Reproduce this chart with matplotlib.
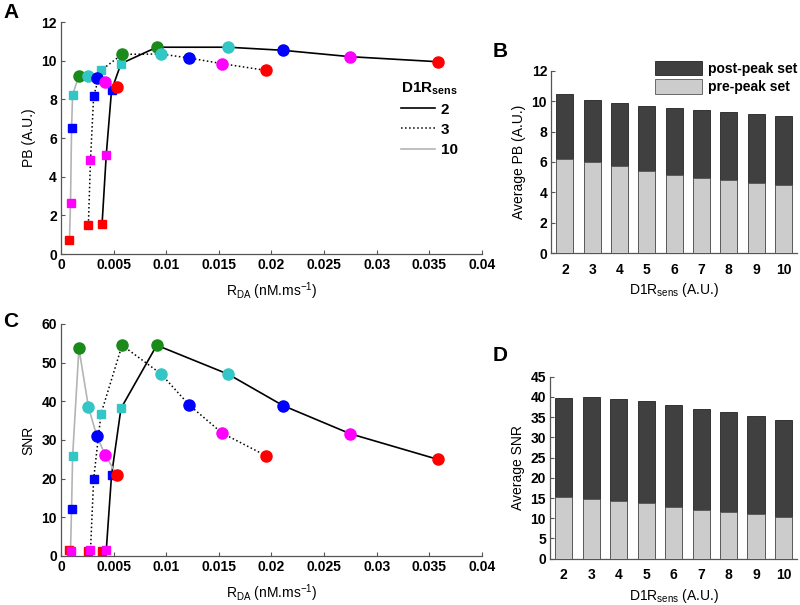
import matplotlib
matplotlib.use("Agg")
import matplotlib.pyplot as plt
from matplotlib.lines import Line2D
from matplotlib.patches import Patch

plt.rcParams['font.family'] = ['Liberation Sans', 'DejaVu Sans']

# --- data ---
# R_DA values (nM/ms) for each D1R sensitivity curve, pre-peak (squares) then peak + post-peak (circles)
rda_2 = [0.0039, 0.0043, 0.0048, 0.0057, 0.0091, 0.0159, 0.0211, 0.0275, 0.0358]
rda_3 = [0.0026, 0.0028, 0.0031, 0.0038, 0.0058, 0.0095, 0.0122, 0.0153, 0.0195]
rda_10 = [0.0008, 0.0009, 0.0010, 0.0011, 0.0017, 0.0026, 0.0034, 0.0042, 0.0053]

pb_2 = [1.55, 5.15, 8.47, 9.85, 10.7, 10.7, 10.54, 10.21, 9.95]
pb_3 = [1.52, 4.86, 8.18, 9.5, 10.33, 10.35, 10.14, 9.85, 9.5]
pb_10 = [0.72, 2.63, 6.52, 8.24, 9.22, 9.22, 9.1, 8.88, 8.66]

snr_2 = [1.2, 1.5, 20.9, 38.2, 54.5, 47.0, 38.9, 31.6, 25.0]
snr_3 = [1.3, 1.5, 19.9, 36.8, 54.5, 47.1, 39.0, 31.8, 25.9]
snr_10 = [1.5, 1.3, 12.2, 25.8, 53.7, 38.6, 31.0, 26.1, 21.0]

point_colors = ['#ff0000', '#ff00ff', '#0000ff', '#33c6c6', '#1a8a1a',
                '#33c6c6', '#0000ff', '#ff00ff', '#ff0000']
n_pre = 4  # first four points are the pre-peak set (squares)

d1r_sens = [2, 3, 4, 5, 6, 7, 8, 9, 10]
pb_post = [10.45, 10.05, 9.85, 9.68, 9.55, 9.39, 9.26, 9.15, 9.02]
pb_pre = [6.22, 6.0, 5.75, 5.42, 5.17, 4.96, 4.82, 4.64, 4.51]
snr_post = [39.6, 39.9, 39.5, 39.0, 38.1, 37.1, 36.2, 35.2, 34.2]
snr_pre = [15.3, 14.8, 14.2, 13.7, 12.9, 12.1, 11.6, 11.0, 10.2]

curves = [
    (rda_2, pb_2, snr_2, '2', dict(color='black', ls='-', lw=1.2)),
    (rda_3, pb_3, snr_3, '3', dict(color='black', ls=':', lw=1.1)),
    (rda_10, pb_10, snr_10, '10', dict(color='#b4b4b4', ls='-', lw=1.2)),
]

fig = plt.figure(figsize=(8, 6.05), dpi=100)
ax_a = fig.add_axes([0.0763, 0.580, 0.526, 0.3835])
ax_c = fig.add_axes([0.0763, 0.081, 0.526, 0.3835])
ax_b = fig.add_axes([0.689, 0.5813, 0.3075, 0.302])
ax_d = fig.add_axes([0.6875, 0.0765, 0.309, 0.301])


def style_axes(ax):
    for s in ['top', 'right']:
        ax.spines[s].set_visible(False)
    for s in ['left', 'bottom']:
        ax.spines[s].set_color('#555555')
        ax.spines[s].set_linewidth(0.9)
    ax.tick_params(direction='in', length=3, width=0.8, color='#555555', pad=3)
    for lab in ax.get_xticklabels() + ax.get_yticklabels():
        lab.set_fontsize(10)
        lab.set_fontweight('bold')


def scatter_curve(ax, xs, ys, line_kw):
    ax.plot(xs, ys, zorder=2, **line_kw)
    for i, (x, y) in enumerate(zip(xs, ys)):
        if i < n_pre:
            ax.plot(x, y, 's', ms=6, color=point_colors[i], mec=point_colors[i], zorder=3)
        else:
            ax.plot(x, y, 'o', ms=8, color=point_colors[i], mec=point_colors[i], zorder=3)


# --- A and C: line/scatter panels ---
for ax, idx, ylim, yt, ylab in [(ax_a, 1, 12, range(0, 13, 2), 'PB (A.U.)'),
                                (ax_c, 2, 60, range(0, 61, 10), 'SNR')]:
    for c in curves:
        scatter_curve(ax, c[0], c[idx], c[4])
    ax.set_xlim(0, 0.04)
    ax.set_ylim(0, ylim)
    ax.set_xticks([0, 0.005, 0.01, 0.015, 0.02, 0.025, 0.03, 0.035, 0.04])
    ax.set_xticklabels(['0', '0.005', '0.01', '0.015', '0.02', '0.025', '0.03', '0.035', '0.04'])
    ax.set_yticks(list(yt))
    ax.set_xlabel(r'R$_{\mathregular{DA}}$ (nM.ms$^{\mathregular{-1}}$)', fontsize=10, labelpad=6)
    ax.set_ylabel(ylab, fontsize=10, labelpad=4)
    style_axes(ax)

handles = [Line2D([0], [0], **c[4]) for c in curves]
leg = ax_a.legend(handles, [c[3] for c in curves], title=r'D1R$_{\mathregular{sens}}$',
                  loc='upper left', bbox_to_anchor=(0.775, 0.81), frameon=False,
                  handlelength=2.2, handletextpad=0.4, labelspacing=0.4,
                  prop=dict(size=11, weight='bold'))
leg.get_title().set_fontweight('bold')
leg.get_title().set_fontsize(11)
leg._legend_box.align = 'right'

# --- B and D: bar panels (pre-peak bar drawn over post-peak bar) ---
for ax, post, pre, ylim, yt, ylab in [(ax_b, pb_post, pb_pre, 12, range(0, 13, 2), 'Average PB (A.U.)'),
                                      (ax_d, snr_post, snr_pre, 45, range(0, 46, 5), 'Average SNR')]:
    ax.bar(d1r_sens, post, width=0.62, color='#404040', edgecolor='#222222', lw=0.6, zorder=2)
    ax.bar(d1r_sens, pre, width=0.62, color='#cccccc', edgecolor='#555555', lw=0.6, zorder=3)
    ax.set_xlim(1.5, 10.5)
    ax.set_ylim(0, ylim)
    ax.set_xticks(d1r_sens)
    ax.set_yticks(list(yt))
    ax.set_xlabel(r'D1R$_{\mathregular{sens}}$ (A.U.)', fontsize=10, labelpad=3)
    ax.set_ylabel(ylab, fontsize=10, labelpad=4)
    style_axes(ax)
    ax.tick_params(axis='x', length=0, pad=7)

ax_b.legend([Patch(facecolor='#404040', edgecolor='#222222', lw=0.6),
             Patch(facecolor='#cccccc', edgecolor='#555555', lw=0.6)],
            ['post-peak set', 'pre-peak set'], loc='upper right',
            bbox_to_anchor=(1.05, 1.12), frameon=False, handlelength=3.4, handleheight=1.2,
            handletextpad=0.4, labelspacing=0.25, prop=dict(size=10, weight='bold'))

# panel letters
for txt, x, y in [('A', 0.004, 0.980), ('B', 0.616, 0.915), ('C', 0.004, 0.468), ('D', 0.616, 0.413)]:
    fig.text(x, y, txt, fontsize=15, fontweight='bold', va='center', ha='left')

fig.savefig('out.png', dpi=100)
